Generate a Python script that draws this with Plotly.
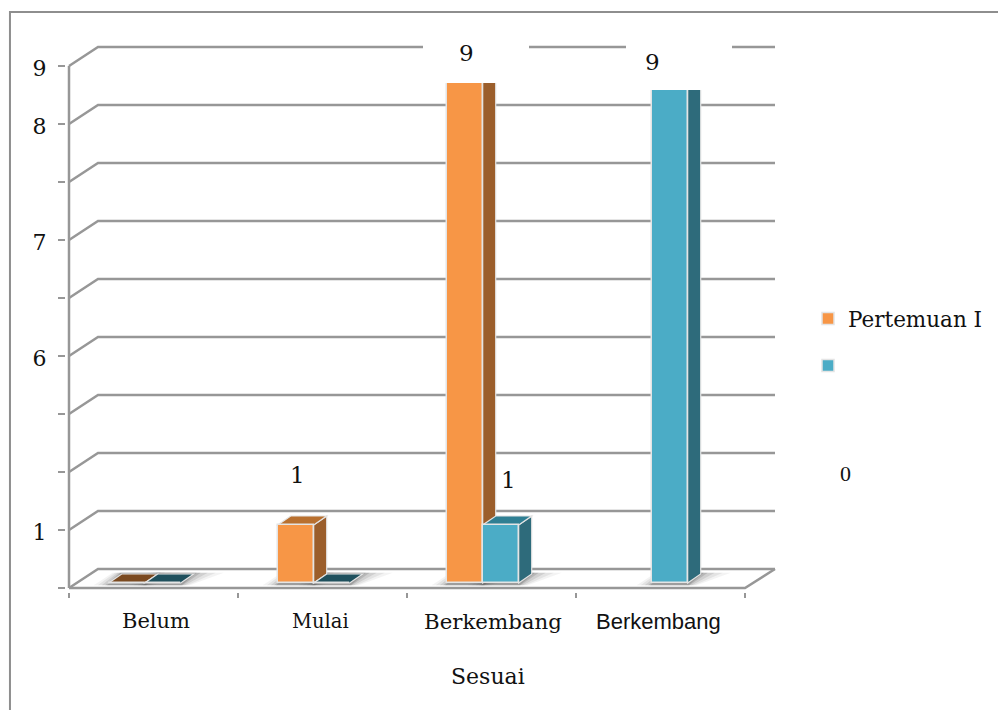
import plotly.graph_objects as go

categories = ["Belum", "Mulai", "Berkembang", "Berkembang"]
orange_values = [0, 1, 9, None]
teal_values = [0, 0, 1, 9]
series_names = ["Pertemuan I", " "]
y_ticks = [0, 1, 2, 3, 4, 5, 6, 7, 8, 9]
y_labels = ["", "1", "", "", "6", "", "7", "", "8", "9"]

W, H = 998, 710
L, R, T, B = 69, 775, 47, 588
PL, PR, PT, PB = 66, 778, 40, 592
CAT_PX, UNIT_PX = 169.0, 58.0
SERIF = "DejaVu Serif"
SANS = "Liberation Sans"
GRID = "#979797"
TEXT = "#111111"


def px(x):
    return -0.5 + (x - L) / CAT_PX


def py(y):
    return (B - y) / UNIT_PX


def paper_x(x):
    return (x - PL) / (PR - PL)


def paper_y(y):
    return (PB - y) / (PB - PT)


x_range = [px(PL), px(PR)]
y_range = [py(PB), py(PT)]
X_END = px(R)

BAR_W = 36 / CAT_PX
SHIFT = -8.8 / CAT_PX
BASE = 5 / UNIT_PX
WALL_DX, WALL_DY = 29 / CAT_PX, 19 / UNIT_PX
BAR_DX, BAR_DY = 13 / CAT_PX, 9 / UNIT_PX
EDGE = "#e4e4e4"

positions = list(range(len(categories)))
shapes = []


def poly(points, fill, line=None, width=0, layer="below", opacity=1):
    d = "M" + " L".join(f"{a:.4f},{b:.4f}" for a, b in points) + " Z"
    shapes.append(dict(type="path", path=d, xref="x", yref="y", fillcolor=fill, opacity=opacity,
                       line=dict(color=line or fill, width=width), layer=layer))


def seg(pts, color=GRID, width=2.5, layer="below"):
    d = "M" + " L".join(f"{a:.4f},{b:.4f}" for a, b in pts)
    shapes.append(dict(type="path", path=d, xref="x", yref="y",
                       line=dict(color=color, width=width), layer=layer))


# frame
shapes.append(dict(type="path", xref="paper", yref="paper",
                   path=f"M{paper_x(10):.4f},{paper_y(H):.4f} L{paper_x(10):.4f},{paper_y(12):.4f} L{paper_x(W):.4f},{paper_y(12):.4f}",
                   line=dict(color="#8e8e8e", width=2), layer="below"))

# walls and gridlines
for v in y_ticks:
    seg([(-0.5, v), (-0.5 + WALL_DX, v + WALL_DY), (X_END, v + WALL_DY)])
seg([(-0.5, 0), (-0.5, 9)])
seg([(-0.5, 0), (3.5, 0), (X_END, WALL_DY)])

# soft floor shadows
for vals, off in ((orange_values, 0), (teal_values, 1)):
    for i, v in zip(positions, vals):
        if v is None:
            continue
        left = i + SHIFT - BAR_W + off * BAR_W
        right = left + BAR_W
        for grow, op in ((30, 0.07), (22, 0.10), (14, 0.14), (7, 0.20), (3, 0.25)):
            g = grow / CAT_PX
            poly([(left - g * 0.5, BASE - 0.04), (right + g * 0.3, BASE - 0.04),
                  (right + BAR_DX + g, BASE + BAR_DY + 0.02), (left + BAR_DX - g * 0.3, BASE + BAR_DY + 0.02)],
                 "#555555", opacity=op)

# depth faces of the bars, derived from the values
for vals, off, side, top, flat in ((orange_values, 0, "#9b5e2b", "#b9702f", "#7b4a20"),
                                   (teal_values, 1, "#2e6b7b", "#2f7f93", "#1f505d")):
    for i, v in zip(positions, vals):
        if v is None:
            continue
        left = i + SHIFT - BAR_W + off * BAR_W
        right = left + BAR_W
        y1 = BASE + v
        if v > 0:
            poly([(right, BASE), (right + BAR_DX, BASE + BAR_DY), (right + BAR_DX, y1 + BAR_DY), (right, y1)],
                 side, EDGE, 1.2)
        poly([(left, y1), (right, y1), (right + BAR_DX, y1 + BAR_DY), (left + BAR_DX, y1 + BAR_DY)],
             top if v > 0 else flat, EDGE, 1.2)

# white patches that cut the tall bars and the top gridline
for x0, x1, y1 in ((423, 529, 83), (626, 732, 90)):
    shapes.append(dict(type="rect", xref="x", yref="y", x0=px(x0), x1=px(x1), y0=py(y1), y1=py(PT),
                       fillcolor="white", line=dict(width=0), layer="above"))

fig = go.Figure()
fig.add_bar(x=positions, y=orange_values, base=BASE, width=BAR_W, offset=SHIFT - BAR_W,
            name=series_names[0], legendgroup="a",
            marker=dict(color="#f79646", line=dict(color=EDGE, width=1.5)))
fig.add_bar(x=positions, y=teal_values, base=BASE, width=BAR_W, offset=SHIFT,
            name=series_names[1], legendgroup="b",
            marker=dict(color="#4bacc6", line=dict(color=EDGE, width=1.5)))

annotations = []


def note(x, y, text, size, family=SERIF):
    annotations.append(dict(x=paper_x(x), y=paper_y(y), xref="paper", yref="paper", text=text, showarrow=False,
                            font=dict(family=family, size=size, color=TEXT),
                            xanchor="center", yanchor="middle"))


for cx, name, fam, size in zip((156, 320, 493, 658), categories,
                               (SERIF, SERIF, SERIF, SANS), (21, 19.5, 21.3, 22)):
    note(cx, 621, name, size, fam)
note(488, 676, "Sesuai", 22)
note(846, 474, "0", 22, "Liberation Serif")
note(297, 475, str(orange_values[1]), 23)
note(466, 53, str(orange_values[2]), 23)
note(508, 480, str(teal_values[2]), 23)
note(652, 62, str(teal_values[3]), 23)

fig.update_layout(
    width=W, height=H, margin=dict(l=PL, r=W - PR, t=PT, b=H - PB, pad=0),
    paper_bgcolor="white", plot_bgcolor="rgba(0,0,0,0)",
    barmode="overlay", bargap=0, shapes=shapes, annotations=annotations,
    showlegend=True,
    legend=dict(xref="container", yref="container", x=808 / W, y=1 - 298 / H, xanchor="left", yanchor="top",
                font=dict(family=SERIF, size=21.5, color=TEXT), tracegroupgap=16, traceorder="grouped",
                bgcolor="rgba(0,0,0,0)"),
    xaxis=dict(range=x_range, tickvals=[-0.5, 0.5, 1.5, 2.5, 3.5], ticktext=[""] * 5, ticks="outside",
               ticklen=5, tickwidth=1.5, tickcolor=GRID, showgrid=False, zeroline=False, showline=False),
    yaxis=dict(range=y_range, tickvals=y_ticks, ticktext=y_labels, ticks="outside", ticklen=7, tickwidth=2,
               tickcolor=GRID, ticklabelstandoff=7, ticklabelshift=2, showgrid=False, zeroline=False, showline=False,
               tickfont=dict(family=SERIF, size=22, color=TEXT)),
)
fig.write_html("out.html", config={"displayModeBar": False}, post_script="document.body.style.margin='0';")
